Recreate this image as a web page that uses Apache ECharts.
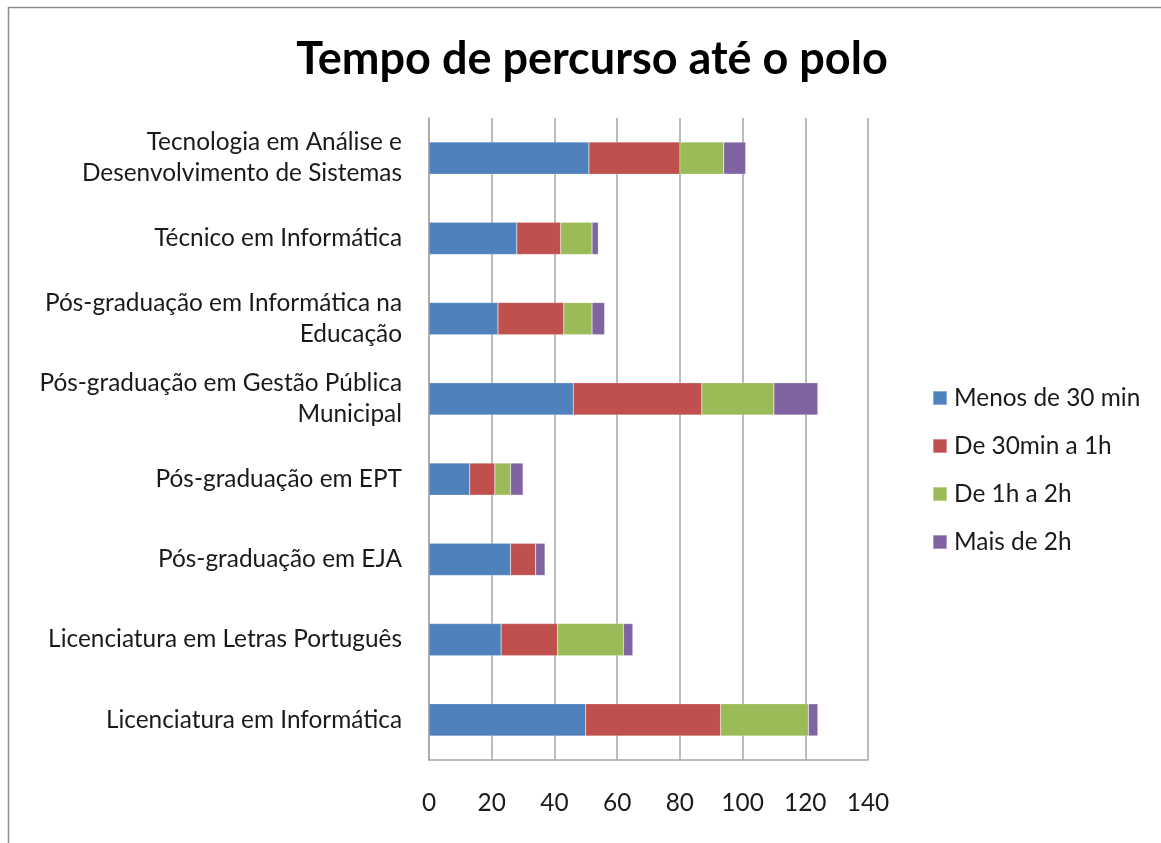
<!DOCTYPE html>
<html>
<head>
<meta charset="utf-8">
<script src="https://cdn.jsdelivr.net/npm/echarts@6/dist/echarts.min.js"></script>
<style>
html,body{margin:0;padding:0;background:#fff;}
#chart{width:1161px;height:843px;}
</style>
</head>
<body>
<div id="chart"></div>
<script>
const titleText = "Tempo de percurso até o polo";
const categories = [
  "Tecnologia em Análise e\nDesenvolvimento de Sistemas",
  "Técnico em Informática",
  "Pós-graduação em Informática na\nEducação",
  "Pós-graduação em Gestão Pública\nMunicipal",
  "Pós-graduação em EPT",
  "Pós-graduação em EJA",
  "Licenciatura em Letras Português",
  "Licenciatura em Informática"
];
const seriesNames = ["Menos de 30 min", "De 30min a 1h", "De 1h a 2h", "Mais de 2h"];
const menos30 = [51, 28, 22, 46, 13, 26, 23, 50];
const de30a1h = [29, 14, 21, 41, 8, 8, 18, 43];
const de1a2h  = [14, 10, 9, 23, 5, 0, 21, 28];
const mais2h  = [7, 2, 4, 14, 4, 3, 3, 3];
const xTicks = { min: 0, max: 140, interval: 20 };

const colors = ["#4F81BD", "#C0504D", "#9BBB59", "#8064A2"];
const values = [menos30, de30a1h, de1a2h, mais2h];
const FONT = "Lato";

const chart = echarts.init(document.getElementById('chart'), null, {renderer: 'canvas'});
chart.setOption({
  animation: false,
  backgroundColor: '#ffffff',
  title: {
    text: titleText,
    left: 587, top: 32, textAlign: 'center',
    textStyle: { fontFamily: FONT, fontWeight: 'bold', fontSize: 45, color: '#000' }
  },
  graphic: [{
    type: 'rect', left: 6, top: 5, silent: true,
    shape: { width: 1200, height: 900 },
    style: { fill: 'none', stroke: '#8e8e8e', lineWidth: 1.5 }
  }],
  legend: {
    orient: 'vertical', left: 927, top: 381,
    itemWidth: 14, itemHeight: 14, itemGap: 24,
    icon: 'rect',
    data: seriesNames,
    textStyle: { fontFamily: FONT, fontSize: 24.4, color: '#1a1a1a', padding: [0, 0, 0, 2] }
  },
  grid: { left: 429, right: 293, top: 118, bottom: 83, containLabel: false },
  xAxis: {
    type: 'value', min: xTicks.min, max: xTicks.max, interval: xTicks.interval,
    axisLine: { show: true, lineStyle: { color: '#a6a6a6', width: 1.5 } },
    axisTick: { show: false },
    splitLine: { show: true, lineStyle: { color: '#a6a6a6', width: 1.5 } },
    axisLabel: { margin: 31, fontFamily: FONT, fontSize: 24.4, color: '#1a1a1a' }
  },
  yAxis: {
    type: 'category', inverse: true, data: categories,
    axisLine: { show: true, lineStyle: { color: '#a6a6a6', width: 1.5 } },
    axisTick: { show: false },
    axisLabel: { margin: 27, fontFamily: FONT, fontSize: 24.4, color: '#1a1a1a', lineHeight: 31, align: 'right' }
  },
  series: seriesNames.map((n, i) => ({
    name: n, type: 'bar', stack: 'total', data: values[i],
    barWidth: '40%',
    itemStyle: { color: colors[i], borderColor: 'rgba(255,255,255,0.35)', borderWidth: 0.5 }
  }))
});
</script>
</body>
</html>
